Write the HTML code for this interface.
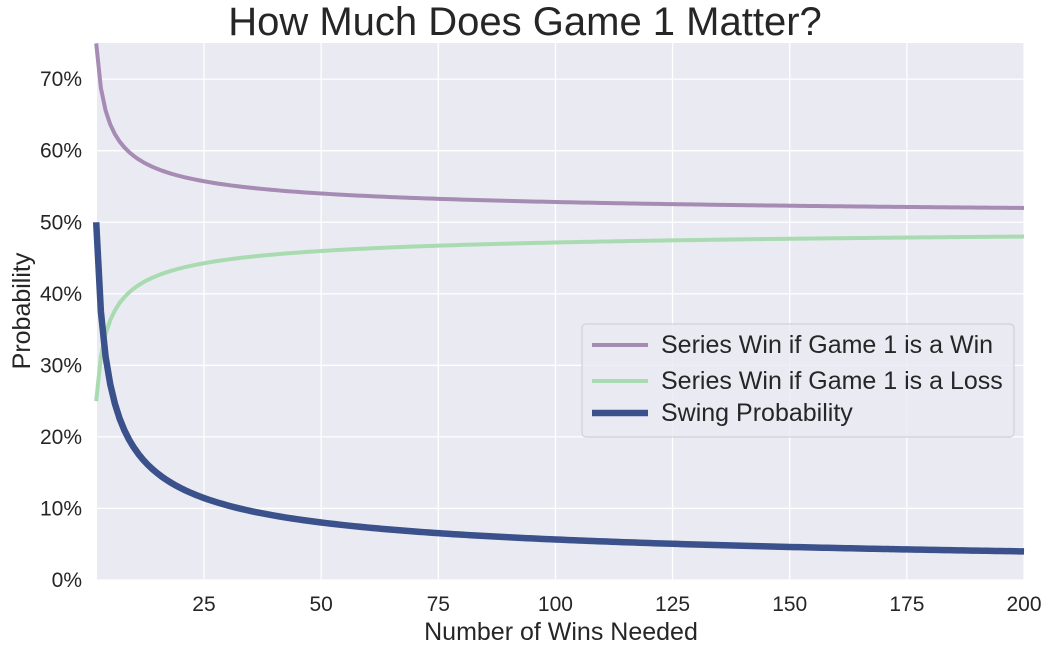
<!DOCTYPE html>
<html><head><meta charset="utf-8"><style>
body{margin:0;background:#fff;}
svg{display:block;font-family:"Liberation Sans",Arial,sans-serif;}
</style></head><body>
<svg id="s" width="1054" height="653" xmlns="http://www.w3.org/2000/svg">
<rect x="97" y="43" width="927" height="537" fill="#eaeaf2"/>
<g id="grid" stroke="#fff" stroke-width="1.3"></g>
<g id="lines" fill="none" stroke-linejoin="round" stroke-linecap="butt"></g>
<g id="ticks" font-size="21" fill="#262626"></g>
<text x="525" y="35" font-size="40" text-anchor="middle" fill="#262626">How Much Does Game 1 Matter?</text>
<text x="561" y="640" font-size="25" text-anchor="middle" fill="#262626">Number of Wins Needed</text>
<text transform="translate(30,311) rotate(-90)" font-size="25" text-anchor="middle" fill="#262626">Probability</text>
<g>
<rect x="582" y="324" width="432" height="113" rx="4" fill="#eaeaf2" fill-opacity="0.8" stroke="#cccccc"/>
<line x1="592" y1="345" x2="648" y2="345" stroke="#a68bb4" stroke-width="4"/>
<line x1="592" y1="381" x2="648" y2="381" stroke="#a8dbb0" stroke-width="4"/>
<line x1="592" y1="413" x2="648" y2="413" stroke="#3b518b" stroke-width="6.5"/>
<text x="661" y="353" font-size="25" fill="#262626">Series Win if Game 1 is a Win</text>
<text x="661" y="389" font-size="25" fill="#262626">Series Win if Game 1 is a Loss</text>
<text x="661" y="421" font-size="25" fill="#262626">Swing Probability</text>
</g>
</svg>
<script>
var X=function(n){return 96.2+(n-2)*4.686;};
var Y=function(p){return 580-p*715.5;};
var ns="http://www.w3.org/2000/svg";
function el(t,a,p){var e=document.createElementNS(ns,t);for(var k in a)e.setAttribute(k,a[k]);document.getElementById(p).appendChild(e);return e;}
[25,50,75,100,125,150,175,200].forEach(function(v){var x=X(v);el('line',{x1:x,x2:x,y1:43,y2:580},'grid');var t=el('text',{x:x,y:611,'text-anchor':'middle'},'ticks');t.textContent=v;});
for(var i=0;i<=7;i++){var y=Y(i/10);el('line',{x1:97,x2:1024,y1:y,y2:y},'grid');var t=el('text',{x:82,y:y+7,'text-anchor':'end'},'ticks');t.textContent=(i*10)+'%';}
var s=0.5,a=[],b=[],c=[];
for(var n=2;n<=200;n++){a.push(X(n).toFixed(2)+','+Y(0.5+s/2).toFixed(2));b.push(X(n).toFixed(2)+','+Y(0.5-s/2).toFixed(2));c.push(X(n).toFixed(2)+','+Y(s).toFixed(2));s=s*(2*n-1)/(2*n);}
el('polyline',{points:a.join(' '),stroke:'#a68bb4','stroke-width':4},'lines');
el('polyline',{points:b.join(' '),stroke:'#a8dbb0','stroke-width':4},'lines');
el('polyline',{points:c.join(' '),stroke:'#3b518b','stroke-width':6.5},'lines');
</script>
</body></html>
